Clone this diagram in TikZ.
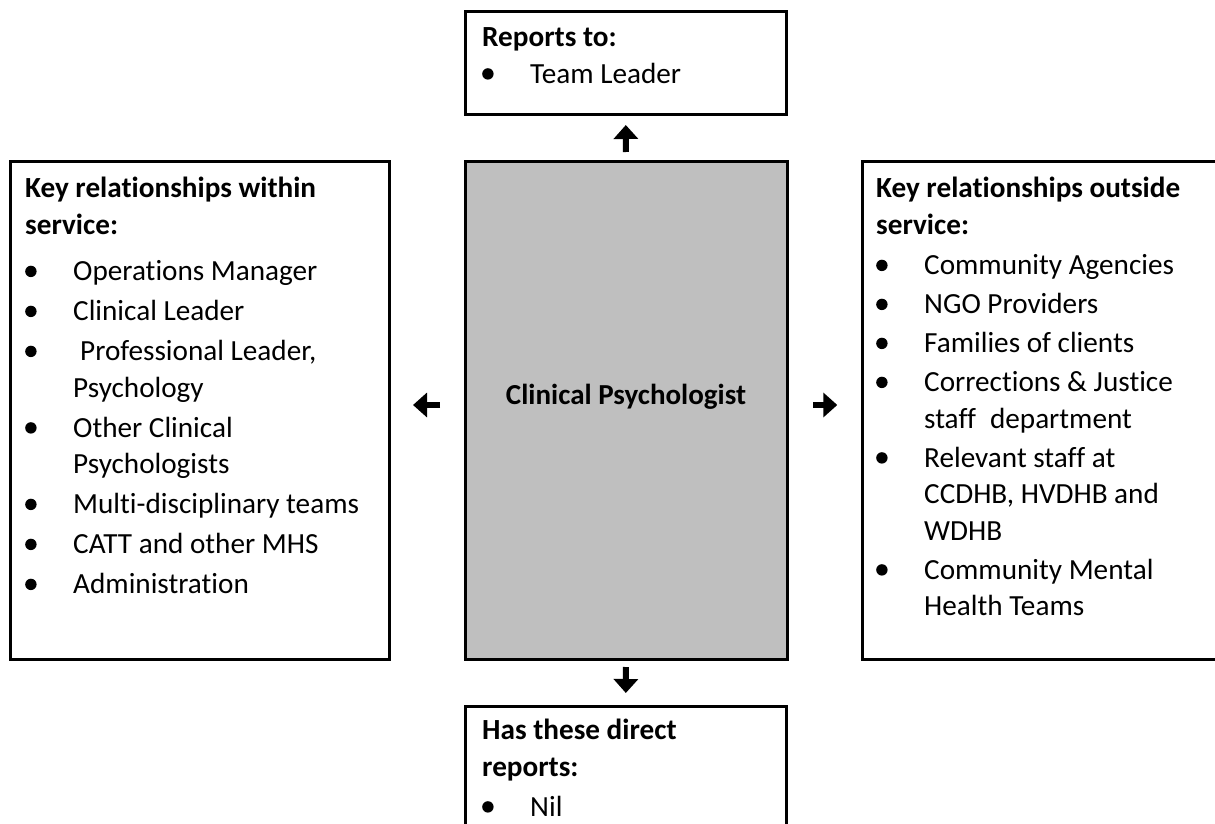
\documentclass[tikz,border=0pt]{standalone}
\usepackage{fontspec}
\setmainfont{Carlito}[Ligatures=NoCommon]
\usetikzlibrary{arrows.meta}
% bullet: filled dot followed by the hanging indent
\newcommand\bul{\makebox[48pt][l]{\raisebox{3.6pt}{\tikz\fill (0,0) circle (5.7pt);}}}
\begin{document}
\begin{tikzpicture}[x=1pt,y=-1pt,
  box/.style={draw=black,line width=3pt,rectangle,anchor=north west,outer sep=0pt,inner sep=0pt},
  rolebox/.style={box,fill={rgb,255:red,191;green,191;blue,191}},
  listtext/.style={anchor=north west,inner sep=0pt,align=left,font=\fontsize{29.2}{36.5}\selectfont},
  link/.style={line width=6pt,-{Triangle[width=24pt,length=14pt]}}]
\useasboundingbox (0,0) rectangle (1215,824);
\clip (0,0) rectangle (1215,824);

% boxes
\node[box,minimum width=321.5pt,minimum height=103.7pt] (reports) at (465,11.3) {};
\node[rolebox,minimum width=322pt,minimum height=498pt] (role) at (465,161) {};
\node[box,minimum width=378.5pt,minimum height=498pt] (within) at (10.5,161) {};
\node[box,minimum width=420pt,minimum height=498pt] (outside) at (862.3,161) {};
\node[box,minimum width=321.5pt,minimum height=160pt] (direct) at (465,706.5) {};

% texts
\node[listtext] (reportstext) at (482,26) {\rule{0pt}{20pt}\textbf{Reports to:}\\[0.5pt]
  \bul Team Leader};

\node[font=\bfseries\fontsize{29}{36}\selectfont,anchor=base,inner sep=0pt] (roletext) at (626,404) {Clinical Psychologist};

\node[listtext] (withintext) at (25,177) {\rule{0pt}{20pt}\textbf{Key relationships within}\\
  \textbf{service:}\\[10pt]
  \bul Operations Manager\\[3.5pt]
  \bul Clinical Leader\\[3.5pt]
  \bul\hspace{7pt}Professional Leader,\\
  \hspace*{48pt}Psychology\\[3.5pt]
  \bul Other Clinical\\
  \hspace*{48pt}Psychologists\\[3.5pt]
  \bul Multi-disciplinary teams\\[3.5pt]
  \bul CATT and other MHS\\[3.5pt]
  \bul Administration};

\node[listtext] (outsidetext) at (876,177) {\rule{0pt}{20pt}\textbf{Key relationships outside}\\
  \textbf{service:}\\[4pt]
  \bul Community Agencies\\[2.5pt]
  \bul NGO Providers\\[2.5pt]
  \bul Families of clients\\[2.5pt]
  \bul Corrections \& Justice\\
  \hspace*{48pt}staff\hspace{14pt}department\\[2.5pt]
  \bul Relevant staff at\\
  \hspace*{48pt}CCDHB, HVDHB and\\
  \hspace*{48pt}WDHB\\[2.5pt]
  \bul Community Mental\\
  \hspace*{48pt}Health Teams};

\node[listtext] (directtext) at (482,719) {\rule{0pt}{20pt}\textbf{Has these direct}\\
  \textbf{reports:}\\[3.5pt]
  \bul Nil};

% connectors
\draw[link,shorten <=9pt,shorten >=10pt] (role.north) -- (reports.south);
\draw[link,shorten <=8pt,shorten >=13.5pt] (role.south) -- (direct.north);
\draw[link,shorten <=25pt,shorten >=24pt] ([yshift=5pt]role.west) -- ([yshift=5pt]within.east);
\draw[link,shorten <=26pt,shorten >=25pt] ([yshift=5pt]role.east) -- ([yshift=5pt]outside.west);
\end{tikzpicture}
\end{document}
